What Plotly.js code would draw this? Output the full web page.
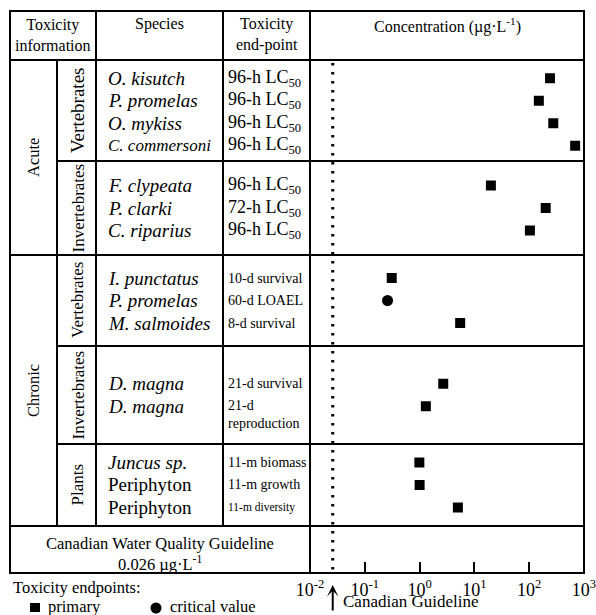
<!DOCTYPE html>
<html><head><meta charset="utf-8">
<script src="https://cdn.plot.ly/plotly-3.0.1.min.js"></script>
<style>html,body{margin:0;padding:0;background:#fff;} #chart{width:596px;height:615px;}</style>
</head><body><div id="chart"></div>
<script>
// ---------------- data ----------------
const exposure = ["Acute","Acute","Acute","Acute","Acute","Acute","Acute",
  "Chronic","Chronic","Chronic","Chronic","Chronic","Chronic","Chronic","Chronic"];
const taxon = ["Vertebrates","Vertebrates","Vertebrates","Vertebrates",
  "Invertebrates","Invertebrates","Invertebrates",
  "Vertebrates","Vertebrates","Vertebrates",
  "Invertebrates","Invertebrates",
  "Plants","Plants","Plants"];
const species = ["O. kisutch","P. promelas","O. mykiss","C. commersoni",
  "F. clypeata","P. clarki","C. riparius",
  "I. punctatus","P. promelas","M. salmoides",
  "D. magna","D. magna",
  "Juncus sp.","Periphyton","Periphyton"];
const endpoints = ["96-h LC<sub>50</sub>","96-h LC<sub>50</sub>","96-h LC<sub>50</sub>","96-h LC<sub>50</sub>",
  "96-h LC<sub>50</sub>","72-h LC<sub>50</sub>","96-h LC<sub>50</sub>",
  "10-d survival","60-d LOAEL","8-d survival",
  "21-d survival","21-d<br>reproduction",
  "11-m biomass","11-m growth","11-m diversity"];
const concentration = [240,150,275,690, 20,200,103, 0.31,0.26,5.5, 2.7,1.3, 0.99,1.0,5.0];
const endpointKind = ["primary","primary","primary","primary","primary","primary","primary",
  "primary","critical value","primary","primary","primary","primary","primary","primary"];
const guideline = 0.026;
const tickValues = [0.01,0.1,1,10,100,1000];
const tickLabels = ["10<sup>-2</sup>","10<sup>-1</sup>","10<sup>0</sup>","10<sup>1</sup>","10<sup>2</sup>","10<sup>3</sup>"];
const nonItalic = ["Periphyton"];

// ---------------- layout constants ----------------
const FONT = "Liberation Serif, Times New Roman, serif";
const L=10, R=584, T=11, B=573;
const colX = [10,57,96,223,310,584];
const headerBottom = 60, tableBodyBottom = 526;
const groupEdges = [60,161,255,346,444,526];
const rowStep = 22.5;
const px = x => (x-L)/(R-L);
const yp = y => 1 - (y-T)/(B-T);   // paper y from pixel row
const yv = y => y - T;             // data y (axis in table pixel units)

// groups
const groups = [];
exposure.forEach((e,i)=>{
  const key = e+"|"+taxon[i];
  if(!groups.length || groups[groups.length-1].key!==key) groups.push({key, exp:e, tax:taxon[i], rows:[]});
  groups[groups.length-1].rows.push(i);
});
const rowY = new Array(species.length);
groups.forEach((g,gi)=>{
  const c=(groupEdges[gi]+groupEdges[gi+1])/2 + (gi===0?1.5:0), n=g.rows.length;
  g.rows.forEach((r,k)=>{ rowY[r] = c + (k-(n-1)/2)*rowStep; });
});

// ---------------- traces ----------------
function trace(kind, symbol, size){
  const idx = concentration.map((v,i)=>i).filter(i=>endpointKind[i]===kind);
  return {type:"scatter", mode:"markers", x:idx.map(i=>concentration[i]), y:idx.map(i=>yv(rowY[i])),
    marker:{symbol, size, color:"#000"}, showlegend:false, hoverinfo:"skip", cliponaxis:false};
}
const data=[trace("primary","square",10), trace("critical value","circle",11)];

// ---------------- shapes ----------------
const shapes=[];
const lw=2;
function hline(y,x0,x1){shapes.push({type:"line",xref:"paper",yref:"paper",x0:px(x0),x1:px(x1),y0:yp(y),y1:yp(y),line:{color:"#000",width:lw}});}
function vline(x,y0,y1){shapes.push({type:"line",xref:"paper",yref:"paper",x0:px(x),x1:px(x),y0:yp(y0),y1:yp(y1),line:{color:"#000",width:lw}});}
shapes.push({type:"rect",xref:"paper",yref:"paper",x0:px(L),x1:px(R),y0:yp(T),y1:yp(B),line:{color:"#000",width:lw}});
vline(colX[1],headerBottom,tableBodyBottom);
vline(colX[2],T,tableBodyBottom);
vline(colX[3],T,tableBodyBottom);
vline(colX[4],T,B);
hline(headerBottom,L,R);
groups.forEach((g,gi)=>{
  if(gi===groups.length-1){hline(groupEdges[gi+1],L,R);return;}
  const sameExp = groups[gi+1].exp===g.exp;
  hline(groupEdges[gi+1], sameExp?colX[1]:L, R);
});
// guideline dotted line
shapes.push({type:"line",xref:"x",yref:"paper",x0:guideline,x1:guideline,y0:yp(headerBottom+3),y1:yp(B),
  line:{color:"#000",width:3,dash:"2.5px,6.5px"}});
// legend symbols
shapes.push({type:"rect",xref:"paper",yref:"paper",x0:px(30),x1:px(40),y0:yp(603),y1:yp(612),fillcolor:"#000",line:{width:0}});
shapes.push({type:"circle",xref:"paper",yref:"paper",x0:px(150.5),x1:px(161.5),y0:yp(602.5),y1:yp(613.5),fillcolor:"#000",line:{width:0}});

// ---------------- annotations ----------------
const ann=[];
function txt(text,x,y,size,opts={}){
  ann.push(Object.assign({text,xref:"paper",yref:"paper",x:px(x),y:yp(y),showarrow:false,
    font:{family:FONT,size,color:"#000"},xanchor:"center",yanchor:"middle",borderpad:0,borderwidth:0},opts));
}
// header
txt("Toxicity<br>information",(colX[0]+colX[2])/2,35,16);
txt("Species",(colX[2]+colX[3])/2,24,16);
txt("Toxicity<br>end-point",(colX[3]+colX[4])/2,35,16);
txt("Concentration (µg·L<sup>-1</sup>)",(colX[4]+colX[5])/2,25,16);
// exposure labels
["Acute","Chronic"].forEach(e=>{
  const gs=groups.map((g,i)=>i).filter(i=>groups[i].exp===e);
  const y0=groupEdges[gs[0]], y1=groupEdges[gs[gs.length-1]+1];
  txt(e,(colX[0]+colX[1])/2,(y0+y1)/2,16.5,{textangle:-90});
});
// taxon labels
groups.forEach((g,gi)=>{
  txt(g.tax,(colX[1]+colX[2])/2+1,(groupEdges[gi]+groupEdges[gi+1])/2,gi===0?19:17,{textangle:-90});
});
// species & endpoints
species.forEach((s,i)=>{
  const t = nonItalic.includes(s)? s : "<i>"+s+"</i>";
  txt(t,108,rowY[i],s==="C. commersoni"?17:19,{xanchor:"left"});
  const ep=endpoints[i];
  let size = exposure[i]==="Acute"?18:14;
  if(ep==="11-m diversity") size=11.5;
  const lines = ep.split("<br>").length;
  txt(ep,228,rowY[i],size,{xanchor:"left",align:"left",yshift:-(lines-1)*size*1.2/2});
});
// guideline row
txt("Canadian Water Quality Guideline",(colX[0]+colX[4])/2,543,16.5);
txt("0.026 µg·L<sup>-1</sup>",(colX[0]+colX[4])/2,563,16.5);
// bottom legend
txt("Toxicity endpoints:",13,587,16.5,{xanchor:"left"});
txt("primary",48,606,16.5,{xanchor:"left"});
txt("critical value",170,606,16.5,{xanchor:"left"});
txt("Canadian Guideline",343,601,17,{xanchor:"left"});
// arrow
ann.push({xref:"x",yref:"paper",x:Math.log10(guideline),y:yp(585),ax:0,ay:27,text:"",showarrow:true,
  arrowhead:3,arrowsize:0.95,arrowwidth:2,arrowcolor:"#000",standoff:0});

const layout={
  width:596,height:615,
  margin:{l:L,r:596-R,t:T,b:615-B,pad:0},
  paper_bgcolor:"#fff",plot_bgcolor:"rgba(0,0,0,0)",
  xaxis:{type:"log",domain:[px(colX[4]),1],range:[-2,3.0001],tickvals:tickValues,ticktext:tickLabels,
    ticks:"inside",ticklen:11,tickwidth:2,tickcolor:"#000",showgrid:false,zeroline:false,showline:false,
    ticklabeloverflow:"allow",ticklabelstandoff:4,tickfont:{family:FONT,size:18,color:"#000"}},
  yaxis:{range:[B-T,0],domain:[0,1],visible:false,showgrid:false,zeroline:false},
  shapes, annotations:ann, showlegend:false, font:{family:FONT}
};
Plotly.newPlot("chart",data,layout,{displayModeBar:false,staticPlot:true});
</script>
</body></html>
